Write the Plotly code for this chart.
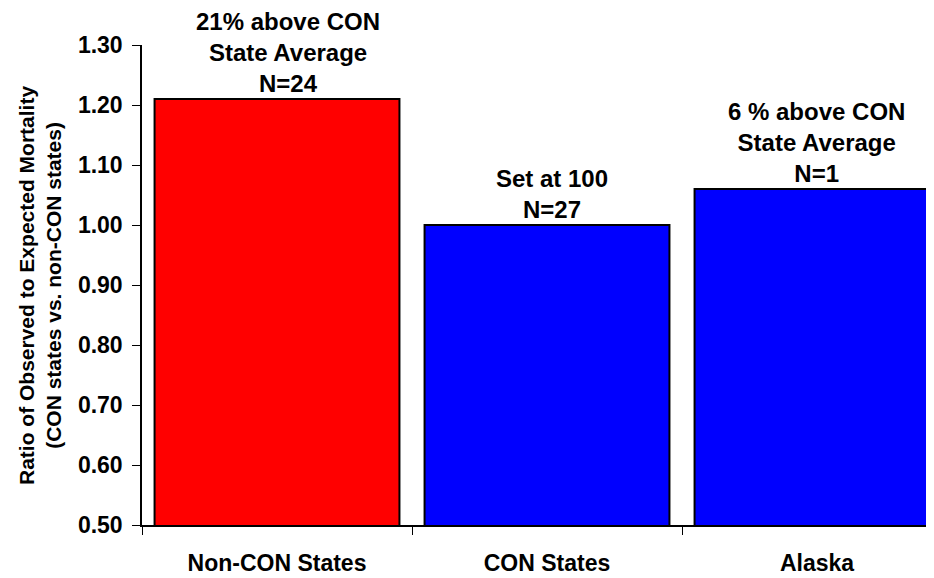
import plotly.graph_objects as go

categories = ["Non-CON States", "CON States", "Alaska"]
ratios = [1.21, 1.00, 1.06]
bar_colors = ["#FF0000", "#0000FF", "#0000FF"]
bar_notes = ["21% above CON<br>State Average<br>N=24",
             "Set at 100<br>N=27",
             "6 % above CON<br>State Average<br>N=1"]
note_xshift = [11, 5, -1]
y_ticks = [0.5, 0.6, 0.7, 0.8, 0.9, 1.0, 1.1, 1.2, 1.3]
y_title = "Ratio of Observed to Expected Mortality<br>(CON states vs. non-CON states)"

FONT = "Liberation Sans, Arial, sans-serif"

fig = go.Figure()
fig.add_trace(go.Bar(
    x=categories, y=ratios,
    marker=dict(color=bar_colors, line=dict(color="black", width=2)),
    width=0.907,
    showlegend=False,
    hoverinfo="x+y",
))

for cat, val, note, xs in zip(categories, ratios, bar_notes, note_xshift):
    fig.add_annotation(
        x=cat, y=val, xref="x", yref="y", text=note, showarrow=False,
        xanchor="center", yanchor="bottom", xshift=xs,
        font=dict(family=FONT, size=24, color="black", weight="bold"),
        align="center",
    )

fig.add_annotation(
    x=-0.1288, y=0.5, xref="paper", yref="paper", text=y_title,
    showarrow=False, textangle=-90, xanchor="center", yanchor="middle",
    font=dict(family=FONT, size=21, color="black", weight="bold"),
    align="center",
)

fig.update_layout(
    width=926, height=570,
    margin=dict(l=134, r=0, t=37, b=53),
    paper_bgcolor="white", plot_bgcolor="white",
    bargap=0.093,
    xaxis=dict(
        type="category", range=[-0.5, 2.4333],
        showline=True, linecolor="black", linewidth=1.5,
        ticks="outside", ticklen=8, tickcolor="black", tickwidth=1,
        tickson="boundaries", showgrid=False, zeroline=False,
        tickfont=dict(family=FONT, size=23, color="black", weight="bold"),
        ticklabelstandoff=17,
    ),
    yaxis=dict(
        range=[0.5, 1.3], tickvals=y_ticks, tickformat=".2f",
        showline=True, linecolor="black", linewidth=1.5,
        ticks="outside", ticklen=8, tickcolor="black", tickwidth=1,
        showgrid=False, zeroline=False,
        tickfont=dict(family=FONT, size=23, color="black", weight="bold"),
        ticklabelstandoff=5,
    ),
)

fig.write_html("out.html")
